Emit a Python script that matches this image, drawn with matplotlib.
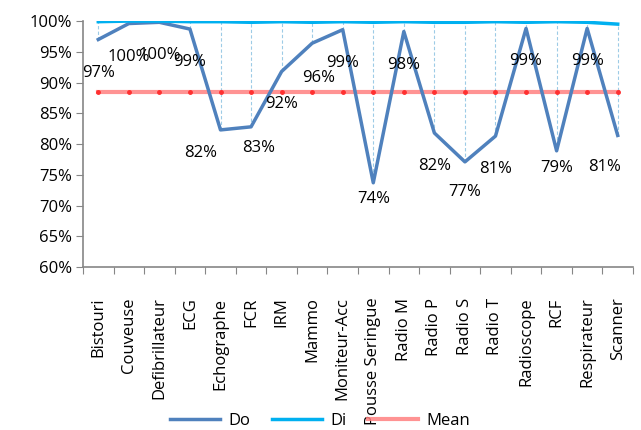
import matplotlib.pyplot as plt
from matplotlib.ticker import FuncFormatter

# Equipment list and availability rates (%)
equipements = ["Bistouri", "Couveuse", "Defibrillateur", "ECG", "Echographe", "FCR",
               "IRM", "Mammo", "Moniteur-Acc", "Pousse Seringue", "Radio M", "Radio P",
               "Radio S", "Radio T", "Radioscope", "RCF", "Respirateur", "Scanner"]
do_vals = [97.0, 99.6, 99.8, 98.7, 82.3, 82.8, 91.8, 96.4, 98.6, 73.7,
           98.3, 81.8, 77.1, 81.3, 98.8, 78.9, 98.8, 81.4]
di_vals = [99.9, 100.0, 100.0, 99.9, 99.9, 99.8, 99.9, 99.8, 99.9, 99.8,
           99.9, 99.8, 99.8, 99.9, 99.8, 99.9, 99.8, 99.5]
mean_val = 88.4

# label offsets in pixels (dx, dy); most sit right under their point
label_offsets = {4: (-20, -23), 5: (8, -21), 7: (6, -35), 9: (0, -16),
                 12: (0, -30), 15: (0, -17), 17: (-13, -32)}

plt.rcParams['font.family'] = ['Open Sans', 'DejaVu Sans']
fs = 12

fig = plt.figure(figsize=(6.41, 4.30), dpi=100)
ax = fig.add_axes([0.1295, 0.379, 0.858, 0.572])

x = list(range(len(equipements)))
mean_vals = [mean_val] * len(x)

# dashed drop lines between Di and Do
ax.vlines(x, do_vals, di_vals, colors='#9dcbe6', linestyles=(0, (3, 2)), linewidth=0.8, zorder=1)

ax.plot(x, mean_vals, color='#ff8080', linewidth=3, alpha=0.85, zorder=2, label='Mean')
ax.plot(x, mean_vals, linestyle='none', marker='o', markersize=2.5, color='#ff3030', zorder=2)
ax.plot(x, do_vals, color='#4f81bd', linewidth=2.5, zorder=3, label='Do')
ax.plot(x, di_vals, color='#00b0f0', linewidth=2.5, zorder=4, label='Di')

for i, v in enumerate(do_vals):
    dx, dy = label_offsets.get(i, (0, -33))
    ax.annotate(f"{round(v):.0f}%", (i, v), xytext=(dx, dy), textcoords='offset pixels',
                ha='center', va='center', fontsize=fs, color='black', zorder=5)

ax.set_xlim(-0.5, len(x) - 0.5)
ax.set_ylim(60, 100)
ax.set_yticks(range(60, 101, 5))
ax.yaxis.set_major_formatter(FuncFormatter(lambda v, p: f"{v:.0f}%"))

ax.set_xticks([i - 0.5 for i in range(len(x) + 1)])
ax.set_xticklabels([])
ax.set_xticks(x, minor=True)
ax.set_xticklabels(equipements, minor=True, rotation=90, fontsize=fs, va='top', ha='center')
ax.tick_params(axis='x', which='minor', length=0, pad=22)
ax.tick_params(axis='x', which='major', length=5, color='#868686', direction='out')
ax.tick_params(axis='y', length=5, color='#868686', direction='out', labelsize=fs, pad=3)

for side in ['top', 'right']:
    ax.spines[side].set_visible(False)
for side in ['left', 'bottom']:
    ax.spines[side].set_color('#868686')
    ax.spines[side].set_linewidth(1.2)

handles, labels = ax.get_legend_handles_labels()
order = [labels.index('Do'), labels.index('Di'), labels.index('Mean')]
fig.legend([handles[i] for i in order], [labels[i] for i in order],
           loc='center', bbox_to_anchor=(0.5, 0.022), ncol=3, frameon=False,
           fontsize=fs, handlelength=3.0, columnspacing=1.3, handletextpad=0.5)

fig.savefig('out.png', dpi=100)
